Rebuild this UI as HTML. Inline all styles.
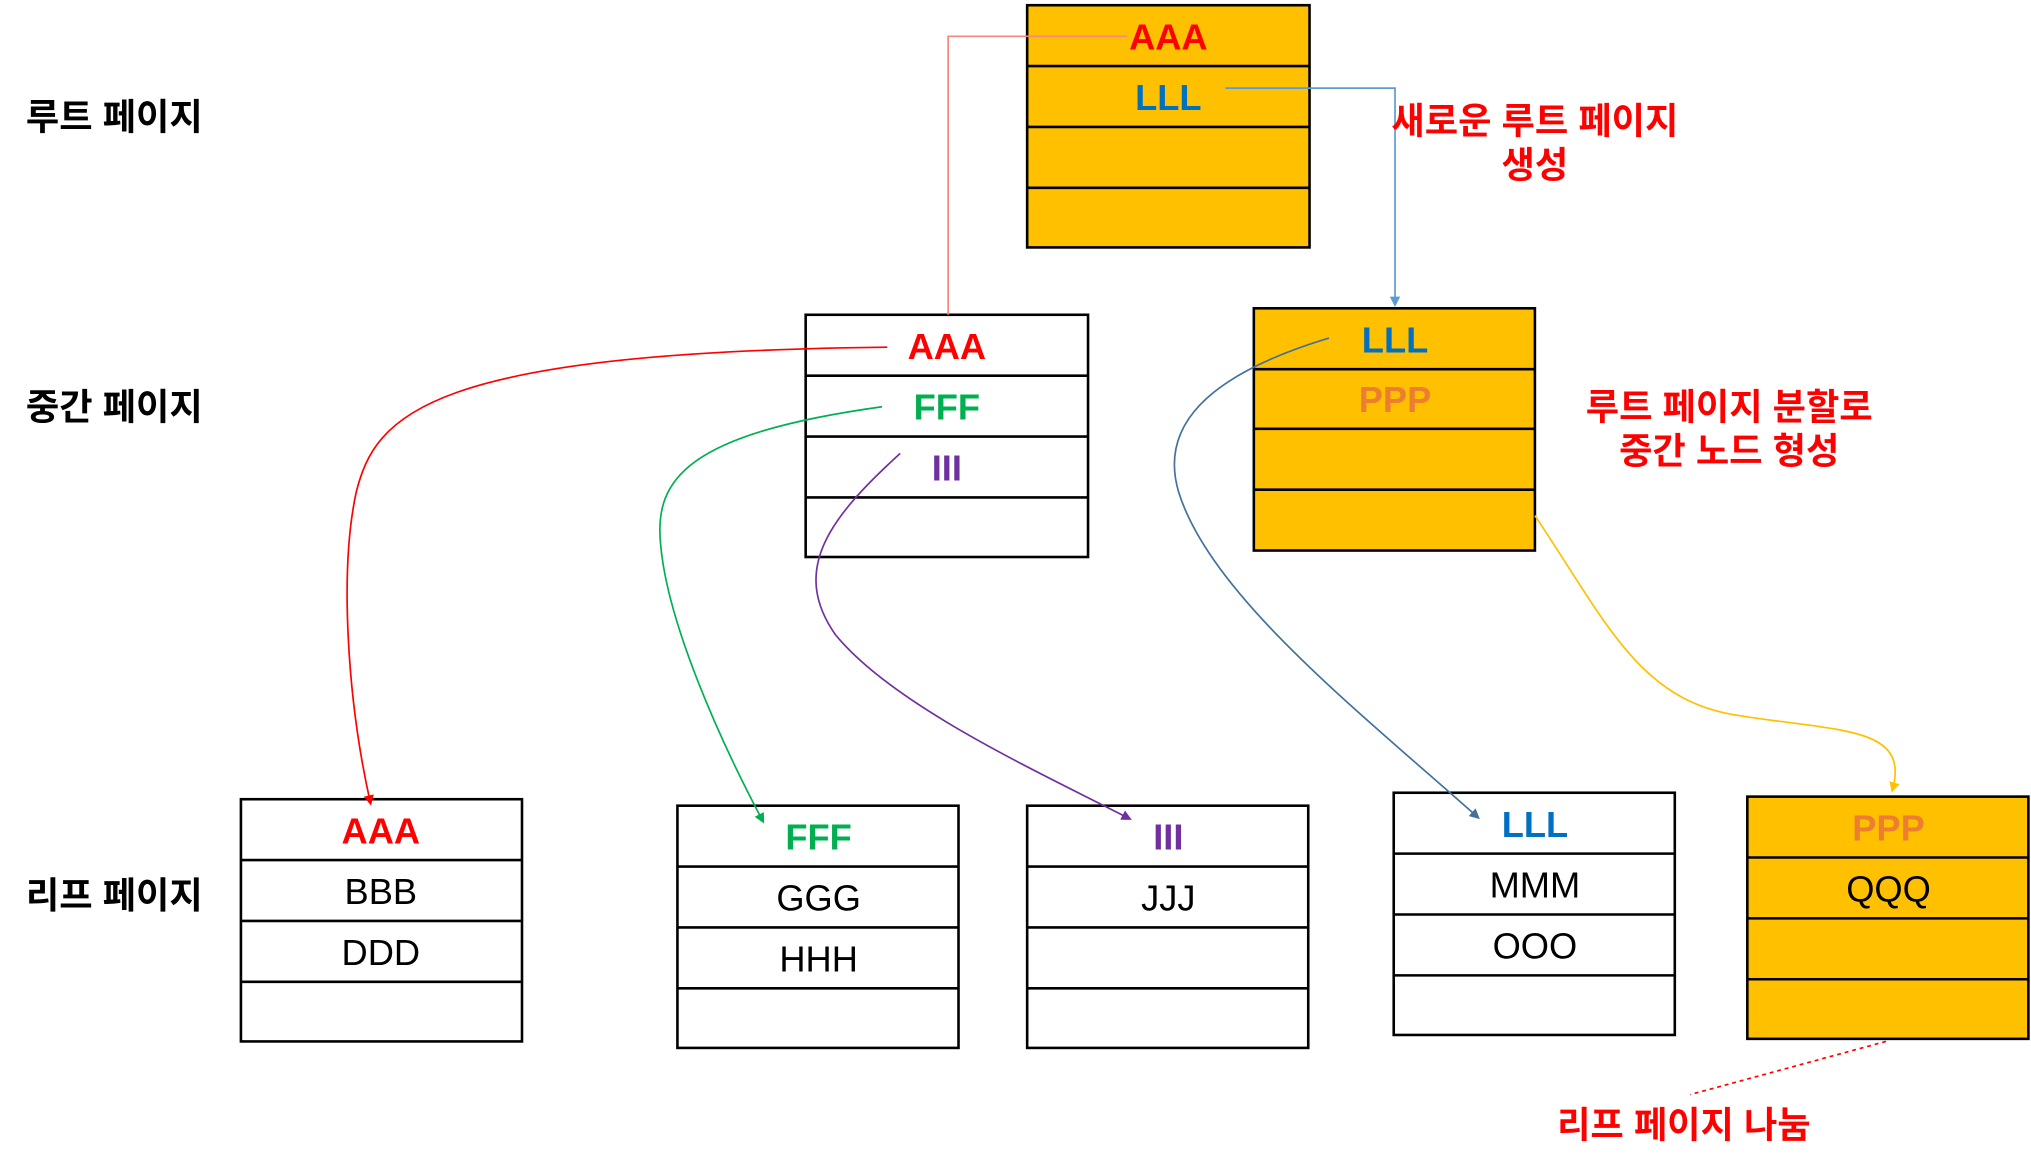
<!DOCTYPE html>
<html><head><meta charset="utf-8"><style>
html,body{margin:0;padding:0;background:#fff;}
svg{display:block;}
text{font-family:"Liberation Sans","Noto Sans CJK KR",sans-serif;}
</style></head><body>
<svg width="2031" height="1171" viewBox="0 0 1568 904" xmlns="http://www.w3.org/2000/svg">
<defs>
<marker id="mr" markerWidth="8" markerHeight="8" refX="6" refY="4" orient="auto" markerUnits="userSpaceOnUse"><path d="M0,0 L8,4 L0,8 z" fill="#FF0000"/></marker>
<marker id="mg" markerWidth="8" markerHeight="8" refX="6" refY="4" orient="auto" markerUnits="userSpaceOnUse"><path d="M0,0 L8,4 L0,8 z" fill="#00B050"/></marker>
<marker id="mp" markerWidth="8" markerHeight="8" refX="6" refY="4" orient="auto" markerUnits="userSpaceOnUse"><path d="M0,0 L8,4 L0,8 z" fill="#7030A0"/></marker>
<marker id="mb" markerWidth="8" markerHeight="8" refX="6" refY="4" orient="auto" markerUnits="userSpaceOnUse"><path d="M0,0 L8,4 L0,8 z" fill="#41719C"/></marker>
<marker id="mb2" markerWidth="8" markerHeight="8" refX="6" refY="4" orient="auto" markerUnits="userSpaceOnUse"><path d="M0,0 L8,4 L0,8 z" fill="#5B9BD5"/></marker>
<marker id="my" markerWidth="8" markerHeight="8" refX="6" refY="4" orient="auto" markerUnits="userSpaceOnUse"><path d="M0,0 L8,4 L0,8 z" fill="#FFC000"/></marker>
</defs>

<g stroke="#000" stroke-width="2">
<!-- root -->
<rect x="793" y="4" width="218" height="187" fill="#FFC000"/>
<line x1="793" y1="51" x2="1011" y2="51"/><line x1="793" y1="98" x2="1011" y2="98"/><line x1="793" y1="145" x2="1011" y2="145"/>
<!-- mid -->
<rect x="622" y="243" width="218" height="187" fill="#fff"/>
<line x1="622" y1="290" x2="840" y2="290"/><line x1="622" y1="337" x2="840" y2="337"/><line x1="622" y1="384" x2="840" y2="384"/>
<!-- right mid -->
<rect x="968" y="238" width="217" height="187" fill="#FFC000"/>
<line x1="968" y1="285" x2="1185" y2="285"/><line x1="968" y1="331" x2="1185" y2="331"/><line x1="968" y1="378" x2="1185" y2="378"/>
<!-- leaves -->
<rect x="186" y="617" width="217" height="187" fill="#fff"/>
<line x1="186" y1="664" x2="403" y2="664"/><line x1="186" y1="711" x2="403" y2="711"/><line x1="186" y1="758" x2="403" y2="758"/>
<rect x="523" y="622" width="217" height="187" fill="#fff"/>
<line x1="523" y1="669" x2="740" y2="669"/><line x1="523" y1="716" x2="740" y2="716"/><line x1="523" y1="763" x2="740" y2="763"/>
<rect x="793" y="622" width="217" height="187" fill="#fff"/>
<line x1="793" y1="669" x2="1010" y2="669"/><line x1="793" y1="716" x2="1010" y2="716"/><line x1="793" y1="763" x2="1010" y2="763"/>
<rect x="1076" y="612" width="217" height="187" fill="#fff"/>
<line x1="1076" y1="659" x2="1293" y2="659"/><line x1="1076" y1="706" x2="1293" y2="706"/><line x1="1076" y1="753" x2="1293" y2="753"/>
<rect x="1349" y="615" width="217" height="187" fill="#FFC000"/>
<line x1="1349" y1="662" x2="1566" y2="662"/><line x1="1349" y1="709" x2="1566" y2="709"/><line x1="1349" y1="756" x2="1566" y2="756"/>
</g>

<!-- connectors -->
<g fill="none" stroke-width="1.3">
<path d="M870,28 L732,28 L732,243" stroke="#F4877F"/>
<path d="M946,68 L1077,68 L1077,235" stroke="#5B9BD5" marker-end="url(#mb2)"/>
<path d="M685,268 C330,272 290,320 275,380 C262,440 268,540 286,620" stroke="#FF0000" marker-end="url(#mr)"/>
<path d="M681,314 C530,335 505,370 510,420 C515,480 555,570 589,634" stroke="#00B050" marker-end="url(#mg)"/>
<path d="M695,350 C640,400 610,440 645,490 C690,545 800,595 872,632" stroke="#7030A0" marker-end="url(#mp)"/>
<path d="M1026,261 C930,290 895,330 910,380 C935,460 1050,550 1141,631" stroke="#41719C" marker-end="url(#mb)"/>
<path d="M1185,398 C1240,480 1265,540 1340,552 C1420,565 1475,560 1461,610" stroke="#FFC000" marker-end="url(#my)"/>
<path d="M1456,804 L1305,845" stroke="#FF0000" stroke-dasharray="3,3"/>
</g>

<g font-weight="bold" font-size="28" text-anchor="middle">
<text x="902" y="38" fill="#FF0000">AAA</text>
<text x="902" y="85" fill="#0070C0">LLL</text>
<text x="731" y="277" fill="#FF0000">AAA</text>
<text x="731" y="324" fill="#00B050">FFF</text>
<text x="731" y="371" fill="#7030A0">III</text>
<text x="1077" y="272" fill="#0070C0">LLL</text>
<text x="1077" y="318" fill="#ED7D31">PPP</text>
<text x="294" y="651" fill="#FF0000">AAA</text>
<text x="632" y="656" fill="#00B050">FFF</text>
<text x="902" y="656" fill="#7030A0">III</text>
<text x="1185" y="646" fill="#0070C0">LLL</text>
<text x="1458" y="649" fill="#ED7D31">PPP</text>
</g>
<g font-size="28" text-anchor="middle" fill="#000">
<text x="294" y="698">BBB</text><text x="294" y="745">DDD</text>
<text x="632" y="703">GGG</text><text x="632" y="750">HHH</text>
<text x="902" y="703">JJJ</text>
<text x="1185" y="693">MMM</text><text x="1185" y="740">OOO</text>
<text x="1458" y="696">QQQ</text>
</g>
<g font-weight="bold" font-size="28" fill="#000">
<text x="20" y="100">루트 페이지</text>
<text x="20" y="324">중간 페이지</text>
<text x="20" y="701">리프 페이지</text>
</g>
<g font-weight="bold" font-size="28" fill="#FF0000" text-anchor="middle">
<text x="1185" y="103">새로운 루트 페이지</text>
<text x="1185" y="137">생성</text>
<text x="1335" y="324">루트 페이지 분할로</text>
<text x="1335" y="358">중간 노드 형성</text>
<text x="1300" y="878">리프 페이지 나눔</text>
</g>
</svg>
</body></html>
